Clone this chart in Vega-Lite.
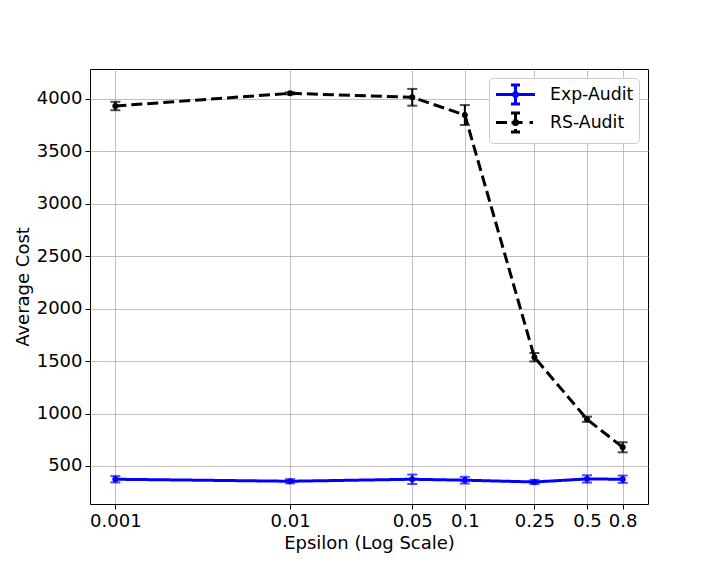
{
  "$schema": "https://vega.github.io/schema/vega-lite/v6.json",
  "width": 558,
  "height": 435,
  "autosize": {"type": "none"},
  "padding": {"left": 90, "top": 69, "right": 72, "bottom": 72},
  "background": "white",
  "config": {
    "font": "DejaVu Sans",
    "view": {"stroke": "black", "strokeWidth": 1},
    "axis": {
      "labelFont": "DejaVu Sans", "titleFont": "DejaVu Sans",
      "labelFontSize": 18, "titleFontSize": 18, "titleFontWeight": "normal",
      "labelColor": "black", "titleColor": "black",
      "tickColor": "black", "tickSize": 5, "domain": false,
      "gridColor": "#b0b0b0", "gridWidth": 0.8, "gridOpacity": 1
    },
    "legend": {"labelFont": "DejaVu Sans", "labelFontSize": 17.3, "labelColor": "black"}
  },
  "data": {
    "values": [
      {"eps": 0.001, "series": "Exp-Audit", "value": 373, "err": 30},
      {"eps": 0.01, "series": "Exp-Audit", "value": 354, "err": 20},
      {"eps": 0.05, "series": "Exp-Audit", "value": 373, "err": 45},
      {"eps": 0.1, "series": "Exp-Audit", "value": 364, "err": 32},
      {"eps": 0.25, "series": "Exp-Audit", "value": 347, "err": 20},
      {"eps": 0.5, "series": "Exp-Audit", "value": 376, "err": 35},
      {"eps": 0.8, "series": "Exp-Audit", "value": 373, "err": 35},
      {"eps": 0.001, "series": "RS-Audit", "value": 3933, "err": 40},
      {"eps": 0.01, "series": "RS-Audit", "value": 4054, "err": 10},
      {"eps": 0.05, "series": "RS-Audit", "value": 4016, "err": 80},
      {"eps": 0.1, "series": "RS-Audit", "value": 3847, "err": 95},
      {"eps": 0.25, "series": "RS-Audit", "value": 1537, "err": 40},
      {"eps": 0.5, "series": "RS-Audit", "value": 945, "err": 25},
      {"eps": 0.8, "series": "RS-Audit", "value": 678, "err": 48}
    ]
  },
  "encoding": {
    "x": {
      "field": "eps", "type": "quantitative",
      "scale": {"type": "log", "domain": [0.000716, 1.117], "nice": false},
      "axis": {"values": [0.001, 0.01, 0.05, 0.1, 0.25, 0.5, 0.8], "format": "~g", "title": "Epsilon (Log Scale)", "labelPadding": 3, "titlePadding": 4}
    },
    "y": {
      "field": "value", "type": "quantitative",
      "scale": {"domain": [137, 4286], "nice": false, "zero": false},
      "axis": {"values": [500, 1000, 1500, 2000, 2500, 3000, 3500, 4000], "format": "d", "title": "Average Cost", "labelPadding": 3, "titlePadding": 4}
    },
    "color": {
      "field": "series", "type": "nominal",
      "scale": {"domain": ["Exp-Audit", "RS-Audit"], "range": ["#0000ff", "#000000"]},
      "legend": {
        "title": null, "orient": "top-right", "offset": 9,
        "symbolSize": 400, "symbolStrokeWidth": 3, "symbolOpacity": 1, "symbolOffset": 10,
        "strokeColor": "#cccccc", "fillColor": "white", "cornerRadius": 4,
        "padding": 5, "rowPadding": -3, "labelOffset": 23,
        "encode": {
          "symbols": {
            "update": {
              "shape": {"signal": "datum.value === 'RS-Audit' ? 'M-1.95,0H-0.7M-0.4,0H0.9M1.4,0H1.75M0,-0.95V0.95M-0.45,-0.95H0.45M-0.45,0.95H0.45M-0.2,0A0.2,0.2 0 1,0 0.2,0A0.2,0.2 0 1,0 -0.2,0' : 'M-1.95,0H1.95M0,-0.95V0.95M-0.45,-0.95H0.45M-0.45,0.95H0.45M-0.2,0A0.2,0.2 0 1,0 0.2,0A0.2,0.2 0 1,0 -0.2,0'"},
              "fill": {"value": "transparent"},
              "strokeDash": {"value": [1, 0]}
            }
          }
        }
      }
    },
    "strokeDash": {
      "field": "series", "type": "nominal",
      "scale": {"domain": ["Exp-Audit", "RS-Audit"], "range": [[1, 0], [11, 5]]},
      "legend": null
    }
  },
  "layer": [
    {"mark": {"type": "line", "strokeWidth": 3}},
    {"mark": {"type": "point", "filled": true, "size": 36, "opacity": 1}, "encoding": {"strokeDash": {"value": [1, 0]}}},
    {
      "mark": {"type": "errorbar", "ticks": true, "size": 10, "thickness": 2},
      "encoding": {
        "y": {"field": "value", "type": "quantitative"},
        "yError": {"field": "err"},
        "strokeDash": {"value": [1, 0]}
      }
    }
  ]
}
